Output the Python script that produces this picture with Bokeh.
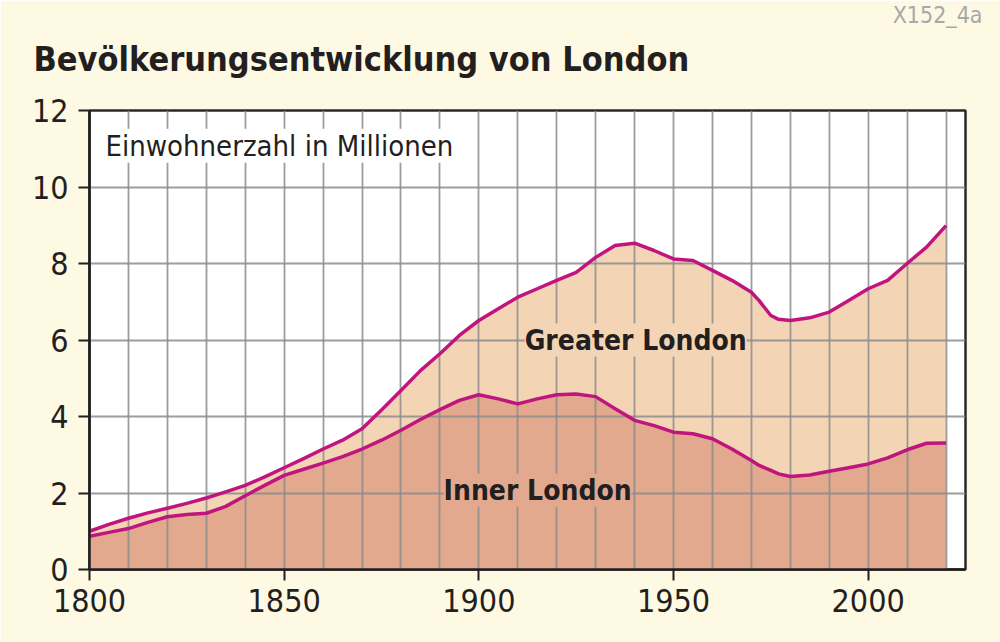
from bokeh.plotting import figure
from bokeh.models import Range1d, Label, FixedTicker, SingleIntervalTicker, Title
from bokeh.embed import file_html
from bokeh.resources import INLINE

# Population of London in millions
years = [1800, 1805, 1810, 1815, 1820, 1825, 1830, 1835, 1840, 1845,
         1850, 1855, 1860, 1865, 1870, 1875, 1880, 1885, 1890, 1895,
         1900, 1905, 1910, 1915, 1920, 1925, 1930, 1935, 1940, 1945,
         1950, 1955, 1960, 1965, 1970, 1972, 1975, 1977, 1980, 1985,
         1990, 1995, 2000, 2005, 2010, 2015, 2020]

greater_london = [1.00, 1.18, 1.34, 1.48, 1.60, 1.73, 1.87, 2.03, 2.20, 2.42,
                  2.66, 2.90, 3.15, 3.38, 3.68, 4.17, 4.68, 5.20, 5.64, 6.12,
                  6.51, 6.82, 7.12, 7.34, 7.56, 7.77, 8.16, 8.47, 8.53, 8.34,
                  8.12, 8.08, 7.82, 7.56, 7.25, 7.03, 6.64, 6.54, 6.51, 6.58,
                  6.73, 7.03, 7.34, 7.56, 8.00, 8.43, 8.99]

inner_london = [0.87, 0.97, 1.07, 1.23, 1.38, 1.44, 1.47, 1.65, 1.93, 2.20,
                2.46, 2.62, 2.78, 2.95, 3.15, 3.38, 3.64, 3.92, 4.18, 4.42,
                4.57, 4.46, 4.33, 4.46, 4.57, 4.59, 4.52, 4.20, 3.90, 3.76,
                3.59, 3.55, 3.42, 3.15, 2.85, 2.72, 2.59, 2.50, 2.43, 2.47,
                2.57, 2.66, 2.76, 2.92, 3.13, 3.30, 3.31]

x_ticks = [1800, 1850, 1900, 1950, 2000]
y_ticks = [0, 2, 4, 6, 8, 10, 12]

BG = "#FEF9E3"
GREATER_FILL = "#F3D5B5"
INNER_FILL = "#E2A98E"
LINE = "#C0157F"
INK = "#231F20"
FONT = "DejaVu Sans Condensed, Roboto, sans-serif"

p = figure(width=1000, height=642,
           x_range=Range1d(1800, 2025), y_range=Range1d(0, 12),
           output_backend="svg", toolbar_location=None,
           min_border_left=89, min_border_right=35,
           min_border_top=110, min_border_bottom=73,
           background_fill_color="white", border_fill_color=BG,
           outline_line_color="#2a2a2a", outline_line_width=2.5)

# areas sit below the grid, outlines above it
p.varea(x=years, y1=0, y2=greater_london, fill_color=GREATER_FILL, level="image")
p.varea(x=years, y1=0, y2=inner_london, fill_color=INNER_FILL, level="image")
p.line(years, greater_london, line_color=LINE, line_width=3.5, line_join="round")
p.line(years, inner_london, line_color=LINE, line_width=3.5, line_join="round")

p.xgrid.ticker = SingleIntervalTicker(interval=10)
p.ygrid.ticker = FixedTicker(ticks=y_ticks)
for g in (p.xgrid, p.ygrid):
    g.grid_line_color = "#8c8c8c"
    g.grid_line_width = 1.8
    g.grid_line_alpha = 0.85

p.xaxis.ticker = FixedTicker(ticks=x_ticks)
p.yaxis.ticker = FixedTicker(ticks=y_ticks)
for ax in (p.xaxis, p.yaxis):
    ax.axis_line_color = INK
    ax.axis_line_width = 2.5
    ax.major_tick_line_color = INK
    ax.major_tick_line_width = 2
    ax.major_tick_out = 11
    ax.major_tick_in = 0
    ax.minor_tick_line_color = None
    ax.major_label_text_font = FONT
    ax.major_label_text_color = INK
p.xaxis.major_label_text_font_size = "32px"
p.yaxis.major_label_text_font_size = "32px"
p.xaxis.major_label_standoff = 8
p.yaxis.major_label_standoff = 10

p.add_layout(Title(text="Bevölkerungsentwicklung von London", align="left",
                   offset=-56, standoff=63, text_font=FONT, text_font_style="bold",
                   text_font_size="34px", text_color=INK), "above")
p.add_layout(Title(text="X152_4a", align="right", offset=-17, standoff=-44,
                   text_font=FONT, text_font_style="normal", text_font_size="23px",
                   text_color="#a8a8a8"), "above")

p.add_layout(Label(x=1804.1, y=11.08, text="Einwohnerzahl in Millionen",
                   text_font=FONT, text_font_size="29px", text_color=INK,
                   text_baseline="alphabetic", background_fill_color="white"))
p.add_layout(Label(x=1940.3, y=6.0, text="Greater London", text_align="center",
                   text_font=FONT, text_font_style="bold", text_font_size="28px",
                   text_color=INK, text_baseline="alphabetic",
                   background_fill_color=GREATER_FILL))
p.add_layout(Label(x=1915.1, y=2.07, text="Inner London", text_align="center",
                   text_font=FONT, text_font_style="bold", text_font_size="28px",
                   text_color=INK, text_baseline="alphabetic",
                   background_fill_color=INNER_FILL))

open("out.html", "w").write(file_html(p, INLINE))
